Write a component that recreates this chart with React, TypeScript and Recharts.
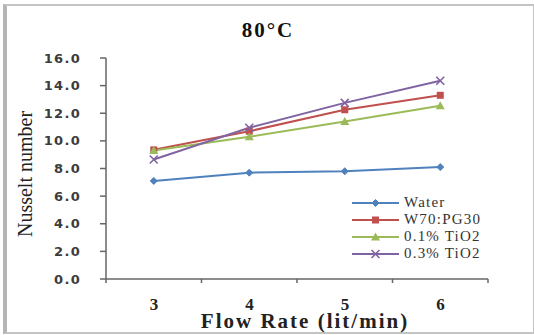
import React from 'react';
import { LineChart, Line, XAxis, YAxis } from 'recharts';

const flowRates = [3, 4, 5, 6];
const water = [7.1, 7.7, 7.8, 8.1];
const w70pg30 = [9.35, 10.7, 12.25, 13.3];
const tio2Low = [9.3, 10.3, 11.4, 12.55];
const tio2High = [8.65, 10.95, 12.75, 14.35];
const yTicks = [0, 2, 4, 6, 8, 10, 12, 14, 16];
const xTickMarks = [2.5, 3.5, 4.5, 5.5, 6.5];

const data = flowRates.map((f, i) => ({
  flow: f,
  water: water[i],
  w70: w70pg30[i],
  t01: tio2Low[i],
  t03: tio2High[i],
}));

type Shape = 'diamond' | 'square' | 'triangle' | 'cross';
const series: { key: string; name: string; color: string; shape: Shape }[] = [
  { key: 'water', name: 'Water', color: '#4F81BD', shape: 'diamond' },
  { key: 'w70', name: 'W70:PG30', color: '#C0504D', shape: 'square' },
  { key: 't01', name: '0.1% TiO2', color: '#9BBB59', shape: 'triangle' },
  { key: 't03', name: '0.3% TiO2', color: '#8064A2', shape: 'cross' },
];

const axisGray = '#666666';

function marker(shape: Shape, color: string, cx: number, cy: number, k?: any) {
  if (shape === 'diamond') {
    return <path key={k} d={`M${cx},${cy - 3.5}L${cx + 3.5},${cy}L${cx},${cy + 3.5}L${cx - 3.5},${cy}Z`} fill={color} stroke={color} />;
  }
  if (shape === 'square') {
    return <rect key={k} x={cx - 3.5} y={cy - 3.5} width={7} height={7} fill={color} />;
  }
  if (shape === 'triangle') {
    return <path key={k} d={`M${cx},${cy - 4.5}L${cx + 4.5},${cy + 3.5}L${cx - 4.5},${cy + 3.5}Z`} fill={color} />;
  }
  return (
    <path key={k} d={`M${cx - 4},${cy - 4}L${cx + 4},${cy + 4}M${cx + 4},${cy - 4}L${cx - 4},${cy + 4}`} stroke={color} strokeWidth={1.6} fill="none" />
  );
}

const dotFor = (shape: Shape, color: string) => (props: any) => {
  const { cx, cy, index } = props;
  return marker(shape, color, cx, cy, `${shape}-${index}`);
};

const LegendBox = () => (
  <div style={{ position: 'absolute', left: 352, top: 194, display: 'flex', flexDirection: 'column' }}>
    {series.map((s) => (
      <div key={s.key} style={{ display: 'flex', alignItems: 'center', height: 17 }}>
        <svg width={52} height={14}>
          <line x1={0} y1={7} x2={47} y2={7} stroke={s.color} strokeWidth={2} />
          {marker(s.shape, s.color, 23.5, 7)}
        </svg>
        <span style={{ fontFamily: '"Liberation Serif", serif', fontSize: 15, color: '#333', letterSpacing: 1.2, lineHeight: '17px' }}>
          {s.name}
        </span>
      </div>
    ))}
  </div>
);

export default function App() {
  return (
    <div style={{ position: 'absolute', left: 0, top: 0, width: 534, height: 335, background: '#fff' }}>
      <div
        style={{
          position: 'absolute',
          left: 3,
          top: 4,
          width: 526,
          height: 326,
          borderLeft: '4px solid #b5b5b5',
          borderTop: '2px solid #c4c4c4',
          borderRight: '2px solid #c4c4c4',
          borderBottom: '2px solid #c4c4c4',
        }}
      />
      <div
        style={{
          position: 'absolute',
          left: 0,
          top: 18,
          width: 536,
          textAlign: 'center',
          fontFamily: '"Liberation Serif", serif',
          fontWeight: 'bold',
          fontSize: 21,
          letterSpacing: 2,
          lineHeight: '24px',
          color: '#111',
        }}
      >
        80°C
      </div>
      <div style={{ position: 'absolute', left: 0, top: 0 }}>
        <LineChart width={534} height={335} data={data} margin={{ top: 58, right: 46, bottom: 0, left: 0 }}>
          <YAxis
            type="number"
            domain={[0, 16]}
            ticks={yTicks}
            interval={0}
            width={106}
            tickSize={6}
            tickMargin={19}
            tickFormatter={(v: number) => v.toFixed(1)}
            stroke={axisGray}
            strokeWidth={1.5}
            tick={{ fill: '#3c3c3c', fontFamily: '"DejaVu Sans", sans-serif', fontWeight: 'bold', fontSize: 13, letterSpacing: 1.3 }}
          />
          <XAxis
            type="number"
            dataKey="flow"
            domain={[2.5, 6.5]}
            ticks={xTickMarks}
            interval={0}
            height={56}
            tickSize={4}
            tickMargin={15}
            stroke={axisGray}
            strokeWidth={1.5}
            tickFormatter={(v: number) => (v < 6.5 ? String(v + 0.5) : '')}
            tick={{ fill: '#222', fontFamily: '"Liberation Serif", serif', fontWeight: 'bold', fontSize: 17, dx: 48 }}
          />
          {series.map((s) => (
            <Line
              key={s.key}
              type="linear"
              dataKey={s.key}
              name={s.name}
              stroke={s.color}
              strokeWidth={2}
              dot={dotFor(s.shape, s.color)}
              activeDot={false}
              isAnimationActive={false}
            />
          ))}
        </LineChart>
      </div>
      <div
        style={{
          position: 'absolute',
          left: 25,
          top: 174,
          transform: 'translate(-50%, -50%) rotate(-90deg)',
          whiteSpace: 'nowrap',
          fontFamily: '"Liberation Serif", serif',
          fontSize: 20,
          lineHeight: '22px',
          color: '#222',
        }}
      >
        Nusselt number
      </div>
      <div
        style={{
          position: 'absolute',
          left: 105,
          top: 309,
          width: 400,
          textAlign: 'center',
          fontFamily: '"Liberation Serif", serif',
          fontWeight: 'bold',
          fontSize: 21,
          letterSpacing: 2,
          lineHeight: '24px',
          color: '#222',
        }}
      >
        Flow Rate (lit/min)
      </div>
      <LegendBox />
    </div>
  );
}
